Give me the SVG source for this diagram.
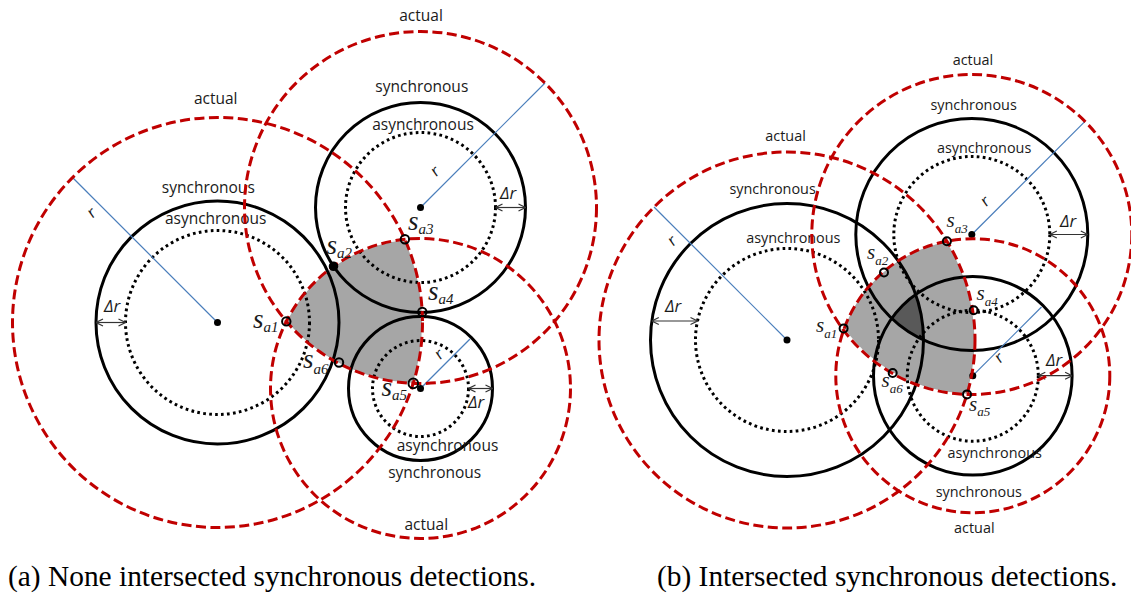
<svg xmlns="http://www.w3.org/2000/svg" width="1131" height="600" viewBox="0 0 1131 600">
<style>
.bg{fill:#fff}
.act{fill:none;stroke:#c00000;stroke-width:3;stroke-dasharray:10 4.5}
.syn{fill:none;stroke:#000;stroke-width:3}
.asy{fill:none;stroke:#000;stroke-width:3;stroke-dasharray:2.7 3.3}
.rad{stroke:#4a7ebb;stroke-width:1.2;fill:none}
.dr{stroke:#333;stroke-width:1.2;fill:none;marker-start:url(#ah);marker-end:url(#ah)}
.ctr{fill:#000}
.pt{fill:none;stroke:#000;stroke-width:2}
.ptf{fill:#000;stroke:#000;stroke-width:2}
.gray{fill:#a6a6a6;stroke:#fff;stroke-width:1.2}
.dark{fill:#595959}
.lbl{font-family:"Open Sans","Liberation Sans",sans-serif;font-size:15.5px;text-anchor:middle;fill:#1a1a1a}
.lbl2{font-family:"Open Sans","Liberation Sans",sans-serif;font-size:14.4px;text-anchor:middle;fill:#1a1a1a}
.dl{font-family:"Open Sans","Liberation Sans",sans-serif;font-style:italic;font-size:17px;fill:#1a1a1a}
.rl{font-family:"Open Sans","Liberation Sans",sans-serif;font-size:16px;text-anchor:middle;fill:#1a1a1a}
.sa{font-family:"Liberation Serif","Times New Roman",serif;font-style:italic;font-size:27px;fill:#1a1a1a}
.sa .sub{font-size:15px}
.sb{font-family:"Liberation Serif","Times New Roman",serif;font-style:italic;font-size:21px;fill:#1a1a1a}
.sb .sub{font-size:13px}
.cap{font-family:"Liberation Serif","Times New Roman",serif;font-size:29.4px;fill:#000}
</style>
<defs>
<marker id="ah" viewBox="0 0 10 10" refX="10" refY="5" markerWidth="10" markerHeight="10" markerUnits="userSpaceOnUse" orient="auto-start-reverse">
<path d="M3,1.5 L10,5 L3,8.5" fill="none" stroke="#333" stroke-width="1.2"/>
</marker>
</defs>
<rect class="bg" x="0" y="0" width="1131" height="600"/>

<!-- ================= Panel (a) ================= -->
<g id="panel-a">
  <g id="a-region">
    <path class="gray" d="M286.3,321.4 A150,150 0 0 1 404.9,239.3 A205,205 0 0 1 413.3,383.4 A176,176 0 0 1 286.3,321.4 Z"/>
  </g>
  <g id="a-left">
    <circle class="asy" cx="217.5" cy="322.5" r="92"/>
    <circle class="syn" cx="217.5" cy="322.5" r="121.5"/>
    <line class="rad" x1="217.5" y1="322.5" x2="72.5" y2="177.5"/>
    <line class="dr" x1="96" y1="322.5" x2="125.5" y2="322.5"/>
    <circle class="ctr" cx="217.5" cy="322.5" r="3.5"/>
    <text class="lbl" x="215.7" y="104">actual</text>
    <text class="lbl" x="208.3" y="193.3">synchronous</text>
    <text class="lbl" x="215.7" y="223.5">asynchronous</text>
    <text class="dl" x="104" y="311.5">Δr</text>
    <text class="rl" x="92.5" y="217.5" transform="rotate(-35 92.5 213.5)">r</text>
  </g>
  <g id="a-top">
    <circle class="asy" cx="420.5" cy="207.5" r="75"/>
    <circle class="syn" cx="420.5" cy="207.5" r="105"/>
    <line class="rad" x1="420.5" y1="207.5" x2="545" y2="83"/>
    <line class="dr" x1="495.5" y1="207.5" x2="525.5" y2="207.5"/>
    <circle class="ctr" cx="420.5" cy="207.5" r="3.5"/>
    <text class="lbl" x="421" y="21">actual</text>
    <text class="lbl" x="421.8" y="92.3">synchronous</text>
    <text class="lbl" x="423" y="130.2">asynchronous</text>
    <text class="dl" x="500" y="199.3">Δr</text>
    <text class="rl" x="436" y="176" transform="rotate(-35 436 172)">r</text>
  </g>
  <g id="a-bottom">
    <circle class="asy" cx="420.5" cy="388.5" r="48"/>
    <circle class="syn" cx="420.5" cy="388.5" r="72"/>
    <line class="rad" x1="420.5" y1="388.5" x2="470" y2="339"/>
    <line class="dr" x1="468.5" y1="388.5" x2="492.5" y2="388.5"/>
    <circle class="ctr" cx="420.5" cy="388.5" r="3.5"/>
    <text class="lbl" x="447.5" y="451">asynchronous</text>
    <text class="lbl" x="434.7" y="477.5">synchronous</text>
    <text class="lbl" x="426.3" y="530">actual</text>
    <text class="dl" x="468" y="408">Δr</text>
    <text class="rl" x="440" y="359" transform="rotate(-35 440 355)">r</text>
  </g>
  <g id="a-actual">
    <circle class="act" cx="217.5" cy="322.5" r="205"/>
    <circle class="act" cx="420.5" cy="207.5" r="176"/>
    <circle class="act" cx="420.5" cy="388.5" r="150"/>
  </g>
  <g id="a-points">
    <circle class="pt" cx="286.3" cy="321.4" r="4.2"/>
    <circle class="ptf" cx="333.5" cy="266.3" r="3.8"/>
    <circle class="pt" cx="404.9" cy="239.3" r="4.2"/>
    <circle class="pt" cx="422.3" cy="312" r="4.2"/>
    <circle class="pt" cx="413.3" cy="383.4" r="4.8"/>
    <circle class="pt" cx="339" cy="362.5" r="4.2"/>
    <text class="sa" x="253" y="328">s<tspan class="sub" dy="4">a1</tspan></text>
    <text class="sa" x="326.5" y="254">s<tspan class="sub" dy="4">a2</tspan></text>
    <text class="sa" x="408" y="230">s<tspan class="sub" dy="4">a3</tspan></text>
    <text class="sa" x="428" y="300">s<tspan class="sub" dy="4">a4</tspan></text>
    <text class="sa" x="381.5" y="395.5">s<tspan class="sub" dy="4.5">a5</tspan></text>
    <text class="sa" x="303" y="368">s<tspan class="sub" dy="6">a6</tspan></text>
  </g>
  <text class="cap" x="8" y="586">(a) None intersected synchronous detections.</text>
</g>

<!-- ================= Panel (b) ================= -->
<g id="panel-b">
  <g id="b-region">
    <path class="gray" d="M843.6,328.4 A137,137 0 0 1 946.9,241.2 A188,188 0 0 1 967,394.4 A160,160 0 0 1 843.6,328.4 Z"/>
    <path class="dark" d="M891.7,317.3 A99.3,99.3 0 0 1 915.7,294.5 A136.5,136.5 0 0 1 923.5,340 A116,116 0 0 1 891.7,317.3 Z"/>
  </g>
  <g id="b-left">
    <circle class="asy" cx="787" cy="340" r="91.5"/>
    <circle class="syn" cx="787" cy="340" r="136.5"/>
    <line class="rad" x1="787" y1="340" x2="654" y2="207"/>
    <line class="dr" x1="651.8" y1="321" x2="697.5" y2="321"/>
    <circle class="ctr" cx="787" cy="340" r="3.5"/>
    <text class="lbl2" x="785.6" y="140.7">actual</text>
    <text class="lbl2" x="772.6" y="194.2">synchronous</text>
    <text class="lbl2" x="793.3" y="243.2">asynchronous</text>
    <text class="dl" x="665" y="312">Δr</text>
    <text class="rl" x="673" y="245.5" transform="rotate(-35 673 241.5)">r</text>
  </g>
  <g id="b-top">
    <circle class="asy" cx="971.8" cy="234.5" r="78"/>
    <circle class="syn" cx="971.8" cy="234.5" r="116"/>
    <line class="rad" x1="971.8" y1="234.5" x2="1085" y2="121.3"/>
    <line class="dr" x1="1049.8" y1="234.5" x2="1087.8" y2="234.5"/>
    <circle class="ctr" cx="971.8" cy="234.5" r="3.5"/>
    <text class="lbl2" x="972.9" y="65">actual</text>
    <text class="lbl2" x="973.6" y="109.6">synchronous</text>
    <text class="lbl2" x="984.1" y="153">asynchronous</text>
    <text class="dl" x="1060" y="226.5">Δr</text>
    <text class="rl" x="986" y="206" transform="rotate(-35 986 202)">r</text>
  </g>
  <g id="b-bottom">
    <circle class="asy" cx="972.8" cy="375.7" r="65.5"/>
    <circle class="syn" cx="972.8" cy="375.7" r="99.3"/>
    <line class="rad" x1="972.8" y1="375.7" x2="1041.5" y2="307"/>
    <line class="dr" x1="1038.3" y1="375.7" x2="1072.1" y2="375.7"/>
    <circle class="ctr" cx="972.8" cy="375.7" r="3.5"/>
    <text class="lbl2" x="994.7" y="458">asynchronous</text>
    <text class="lbl2" x="978.8" y="497">synchronous</text>
    <text class="lbl2" x="974.3" y="533">actual</text>
    <text class="dl" x="1046" y="366">Δr</text>
    <text class="rl" x="1000" y="362.5" transform="rotate(-35 1000 358.5)">r</text>
  </g>
  <g id="b-actual">
    <circle class="act" cx="787" cy="340" r="188"/>
    <circle class="act" cx="971.8" cy="234.5" r="160"/>
    <circle class="act" cx="972.8" cy="375.7" r="137"/>
  </g>
  <g id="b-points">
    <circle class="pt" cx="843.6" cy="328.4" r="4"/>
    <circle class="pt" cx="884" cy="272.5" r="4"/>
    <circle class="pt" cx="946.9" cy="241.2" r="4"/>
    <circle class="pt" cx="973.7" cy="310.3" r="4"/>
    <circle class="pt" cx="967" cy="394.4" r="4"/>
    <circle class="pt" cx="892.7" cy="373" r="4"/>
    <text class="sb" x="816" y="332">s<tspan class="sub" dy="6">a1</tspan></text>
    <text class="sb" x="867" y="259">s<tspan class="sub" dy="6">a2</tspan></text>
    <text class="sb" x="946.5" y="227">s<tspan class="sub" dy="6">a3</tspan></text>
    <text class="sb" x="976.5" y="300">s<tspan class="sub" dy="6">a4</tspan></text>
    <text class="sb" x="969" y="411">s<tspan class="sub" dy="5">a5</tspan></text>
    <text class="sb" x="881.5" y="387">s<tspan class="sub" dy="6">a6</tspan></text>
  </g>
  <text class="cap" x="657" y="586">(b) Intersected synchronous detections.</text>
</g>
</svg>
